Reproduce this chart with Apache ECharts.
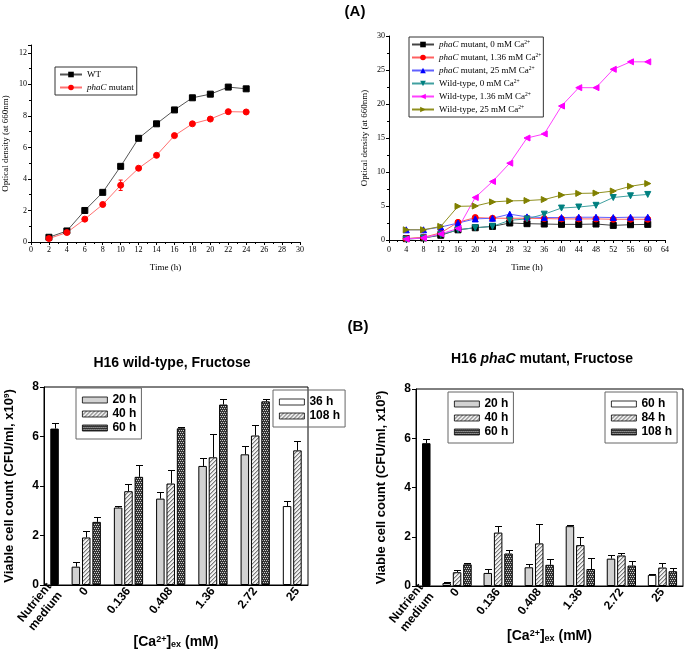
<!DOCTYPE html>
<html><head><meta charset="utf-8">
<script src="https://cdn.jsdelivr.net/npm/echarts@6/dist/echarts.min.js"></script>
<style>html,body{margin:0;padding:0;background:#fff}#c{width:685px;height:653px}</style>
</head><body><div id="c"></div>
<script>
// ---------- Panel A (left): growth curves ----------
const timeA = [2,4,6,8,10,12,14,16,18,20,22,24];
const wtOD = [0.3,0.7,2.0,3.15,4.8,6.58,7.5,8.38,9.15,9.38,9.83,9.72];
const phacOD = [0.22,0.6,1.45,2.38,3.6,4.68,5.5,6.75,7.5,7.8,8.27,8.25];
const phacODErr = [null,null,null,null,0.33,null,null,null,null,null,null,null];

// ---------- Panel A (right): growth with Ca2+ ----------
const timeB = [4,8,12,16,20,24,28,32,36,40,44,48,52,56,60];
const phac0 = [0.2,0.3,0.7,1.5,1.8,2.0,2.5,2.4,2.35,2.3,2.3,2.35,2.15,2.25,2.3];
const phac136 = [0.2,0.4,1.05,2.6,3.3,3.2,3.2,3.2,3.15,3.1,3.1,3.1,3.05,3.05,3.05];
const phac25 = [1.5,1.5,1.9,2.5,3.1,3.2,3.8,3.4,3.3,3.3,3.35,3.35,3.3,3.35,3.35];
const wt0 = [0.1,0.3,0.8,1.5,1.8,2.0,2.9,3.1,3.8,4.7,4.85,5.1,6.25,6.5,6.7];
const wt136 = [0.15,0.3,0.9,1.7,6.25,8.6,11.3,15.0,15.6,19.7,22.4,22.4,25.1,26.2,26.2];
const wt25 = [1.5,1.5,2.0,4.95,5.0,5.6,5.75,5.8,5.95,6.6,6.85,6.9,7.2,7.9,8.3];

// ---------- Panel B: viable cell counts ----------
const caCategories = ['Nutrient\nmedium','0','0.136','0.408','1.36','2.72','25'];
// wild-type
const wtNutrient = [6.32,null,null,null,null,null,null];
const wtNutrientErr = [0.22,null,null,null,null,null,null];
const wt20h = [null,0.74,3.13,3.49,4.81,5.28,null];
const wt20hErr = [null,0.17,0.06,0.25,0.32,0.32,null];
const wt40h = [null,1.92,3.79,4.1,5.16,6.04,null];
const wt40hErr = [null,0.25,0.28,0.56,0.96,0.41,null];
const wt60h = [null,2.55,4.37,6.33,7.29,7.42,null];
const wt60hErr = [null,0.18,0.46,0.06,0.24,0.11,null];
const wt36h = [null,null,null,null,null,null,3.19];
const wt36hErr = [null,null,null,null,null,null,0.2];
const wt108h = [null,null,null,null,null,null,5.44];
const wt108hErr = [null,null,null,null,null,null,0.39];
// phaC mutant
const muNutrient = [5.8,null,null,null,null,null,null];
const muNutrientErr = [0.18,null,null,null,null,null,null];
const mu20h = [null,0.12,0.53,0.76,2.43,1.11,null];
const mu20hErr = [null,0.03,0.15,0.12,0.05,0.13,null];
const mu40h = [null,0.56,2.17,1.73,1.66,1.24,null];
const mu40hErr = [null,0.11,0.26,0.77,0.35,0.08,null];
const mu60h = [null,0.88,1.32,0.86,0.69,0.83,null];
const mu60hErr = [null,0.06,0.13,0.22,0.44,0.19,null];
const mu60hLate = [null,null,null,null,null,null,0.45];
const mu60hLateErr = [null,null,null,null,null,null,0.02];
const mu84h = [null,null,null,null,null,null,0.75];
const mu84hErr = [null,null,null,null,null,null,0.2];
const mu108h = [null,null,null,null,null,null,0.6];
const mu108hErr = [null,null,null,null,null,null,0.15];

// ---------- layout constants ----------
const catPos = [0.25,1,2,3,4,5,6];
const BW = 8.5, GAP = 0.22, STEP = BW*(1+GAP);
const SERIF = 'Liberation Serif', SANS = 'Liberation Sans';

function pattern(w,h,bg,layers){
  const c=document.createElement('canvas'); c.width=w; c.height=h;
  const g=c.getContext('2d'); g.fillStyle=bg; g.fillRect(0,0,w,h);
  layers.forEach(([fg,pts])=>{ g.fillStyle=fg; pts.forEach(p=>g.fillRect(p[0],p[1],1,1)); });
  return {image:c, repeat:'repeat'};
}
const HATCH = pattern(4,4,'#f2f2f2',[['#7a7a7a',[[3,0],[2,1],[1,2],[0,3]]],['#c0c0c0',[[0,0],[3,1],[2,2],[1,3]]]]);
const CROSS = pattern(4,4,'#333333',[['#d0d0d0',[[0,0],[2,0],[1,2],[3,2]]]]);
const LIGHT = '#d2d2d2';

const strip = n => n.split('|')[0];

function bar(name, vals, stack, color, ax){
  return {type:'bar', name, stack, xAxisIndex:ax, yAxisIndex:ax, barWidth:BW, barGap:(GAP*100)+'%',
    data: vals.map((v,i)=>[catPos[i], v]),
    itemStyle:{color, borderColor:'#000', borderWidth:1}, emphasis:{disabled:true}, z:2};
}
function errSeries(list, ax){
  const data=[];
  list.forEach(([vals,errs,slot])=>vals.forEach((v,i)=>{ if(v!=null && errs[i]!=null) data.push([catPos[i],v,errs[i],slot]); }));
  return {type:'custom', xAxisIndex:ax, yAxisIndex:ax, z:5, silent:true,
    dimensions:['x','y','e','s'], encode:{x:'x',y:'y'}, data,
    renderItem(params, api){
      const x=api.value(0), v=api.value(1), e=api.value(2), s=api.value(3);
      const p0=api.coord([x,v]), p1=api.coord([x,v+e]);
      const cx=Math.round(p0[0]+s*STEP)+0.5, y1=Math.round(p1[1])+0.5;
      return {type:'group', children:[
        {type:'line', shape:{x1:cx,y1:p0[1],x2:cx,y2:y1}, style:{stroke:'#000',lineWidth:1}},
        {type:'line', shape:{x1:cx-3.5,y1:y1,x2:cx+3.5,y2:y1}, style:{stroke:'#000',lineWidth:1}}
      ]};
    }};
}

function lineSeries(name, xs, ys, color, symbol, rot, ax, lineColor){
  return {type:'line', name, xAxisIndex:ax, yAxisIndex:ax, data: xs.map((x,i)=>[x, ys[i]]),
    symbol, symbolSize:6, symbolRotate:rot, showAllSymbol:true,
    lineStyle:{color:lineColor||color, width:1}, itemStyle:{color, borderColor:color}, emphasis:{disabled:true}};
}

const topAxisLabel = {fontFamily:SERIF, fontSize:8, color:'#000', margin:4};
const topAxisCommon = {axisLine:{lineStyle:{color:'#000',width:1}}, axisTick:{inside:false,length:3,lineStyle:{color:'#000'}},
  minorTick:{show:true, splitNumber:2, length:2, lineStyle:{color:'#000'}}, splitLine:{show:false}, nameMoveOverlap:false};

const botYAxis = (ax) => ({type:'value', gridIndex:ax, min:0, max:8, interval:2,
  axisLine:{show:true, lineStyle:{color:'#000',width:1}}, axisTick:{show:true, length:4, lineStyle:{color:'#000'}},
  axisLabel:{fontFamily:SANS, fontWeight:'bold', fontSize:12, color:'#000', margin:5}, splitLine:{show:false},
  name:'Viable cell count (CFU/ml, x10{sup|9})', nameLocation:'middle', nameGap:28, nameMoveOverlap:false,
  nameTextStyle:{fontFamily:SANS, fontWeight:'bold', fontSize:13, color:'#000',
    rich:{sup:{fontFamily:SANS, fontWeight:'bold', fontSize:8, verticalAlign:'top', color:'#000'}}}});
const botXAxis = (ax, max, gap) => ({type:'value', gridIndex:ax, min:0, max,
  axisLine:{show:true, lineStyle:{color:'#000',width:1}}, axisTick:{show:false}, splitLine:{show:false},
  axisLabel:{customValues:catPos, formatter:v=>{const i=catPos.indexOf(v); return i<0?'':caCategories[i];},
    rotate:51, fontFamily:SANS, fontWeight:'bold', fontSize:12, color:'#000', margin:4, lineHeight:14},
  name:'[Ca{sup|2+}]{sub|ex} (mM)', nameLocation:'middle', nameGap:gap, nameMoveOverlap:false,
  nameTextStyle:{fontFamily:SANS, fontWeight:'bold', fontSize:14, color:'#000',
    rich:{sup:{fontFamily:SANS,fontWeight:'bold',fontSize:9,verticalAlign:'top',color:'#000'},
          sub:{fontFamily:SANS,fontWeight:'bold',fontSize:9,verticalAlign:'bottom',color:'#000'}}}});

const botLegend = (left, top, data) => ({orient:'vertical', left, top, padding:[6,5,5,6], itemWidth:25, itemHeight:6, itemGap:2,
  borderColor:'#666', borderWidth:1, icon:'rect', selectedMode:false, data, formatter:strip,
  itemStyle:{borderWidth:0.8},
  textStyle:{fontFamily:SANS, fontWeight:'bold', fontSize:12, color:'#000'}});

const supFmt = n => n.replace('phaC','{i|phaC}').replace('Ca2+','Ca{sup|2+}');

const option = {
  animation:false,
  backgroundColor:'#fff',
  title:[
    {text:'(A)', left:355, top:4, textAlign:'center', padding:0, textStyle:{fontFamily:SANS, fontWeight:'bold', fontSize:15, color:'#000'}},
    {text:'(B)', left:358, top:319, textAlign:'center', padding:0, textStyle:{fontFamily:SANS, fontWeight:'bold', fontSize:15, color:'#000'}},
    {text:'H16 wild-type, Fructose', left:172, top:356, textAlign:'center', padding:0, textStyle:{fontFamily:SANS, fontWeight:'bold', fontSize:14, color:'#000'}},
    {text:'H16 {i|phaC} mutant, Fructose', left:542, top:352, textAlign:'center', padding:0,
      textStyle:{fontFamily:SANS, fontWeight:'bold', fontSize:14, color:'#000',
        rich:{i:{fontFamily:SANS, fontWeight:'bold', fontStyle:'italic', fontSize:14, color:'#000'}}}}
  ],
  legend:[
    {orient:'vertical', left:55, top:67, padding:[3,3,3,4], itemWidth:22, itemHeight:7, itemGap:4,
      borderColor:'#333', borderWidth:1, selectedMode:false, data:['WT','phaC mutant'], formatter:supFmt,
      textStyle:{fontFamily:SERIF, fontSize:9, color:'#000', rich:{i:{fontFamily:SERIF,fontSize:9,fontStyle:'italic',color:'#000'}}}},
    {orient:'vertical', left:409, top:37, padding:[3,2,3,2], itemWidth:22, itemHeight:7, itemGap:4,
      borderColor:'#333', borderWidth:1, selectedMode:false,
      data:['phaC mutant, 0 mM Ca2+','phaC mutant, 1.36 mM Ca2+','phaC mutant, 25 mM Ca2+','Wild-type, 0 mM Ca2+','Wild-type, 1.36 mM Ca2+','Wild-type, 25 mM Ca2+'],
      formatter:supFmt,
      textStyle:{fontFamily:SERIF, fontSize:9, color:'#000', rich:{i:{fontFamily:SERIF,fontSize:9,fontStyle:'italic',color:'#000'}, sup:{fontFamily:SERIF,fontSize:5.5,verticalAlign:'top',color:'#000'}}}},
    botLegend(76, 388, ['20 h','40 h','60 h']),
    botLegend(273, 390, ['36 h','108 h']),
    botLegend(448, 392, ['20 h','40 h','60 h']),
    botLegend(605, 392, ['60 h|w','84 h','108 h|x'])
  ],
  grid:[
    {left:31, top:45, width:269, height:197, show:false},
    {left:389, top:36, width:276, height:204, show:false},
    {left:44, top:387, width:264, height:198, show:true, borderColor:'#000', borderWidth:1},
    {left:416, top:389, width:267, height:197, show:true, borderColor:'#000', borderWidth:1}
  ],
  xAxis:[
    Object.assign({type:'value', gridIndex:0, min:0, max:30, interval:2, axisLabel:topAxisLabel,
      name:'Time (h)', nameLocation:'middle', nameGap:21, nameTextStyle:{fontFamily:SERIF, fontSize:9, color:'#000'}}, topAxisCommon),
    Object.assign({type:'value', gridIndex:1, min:0, max:64, interval:4, axisLabel:Object.assign({}, topAxisLabel, {margin:6}),
      name:'Time (h)', nameLocation:'middle', nameGap:23, nameTextStyle:{fontFamily:SERIF, fontSize:9, color:'#000'}}, topAxisCommon),
    botXAxis(2, 6.25, 50),
    botXAxis(3, 6.5, 43)
  ],
  yAxis:[
    Object.assign({type:'value', gridIndex:0, min:0, max:12.5, interval:2, axisLabel:Object.assign({}, topAxisLabel, {showMaxLabel:false, formatter:v=>v%2===0?String(v):''}),
      name:'Optical density (at 660nm)', nameLocation:'middle', nameGap:21, nameTextStyle:{fontFamily:SERIF, fontSize:9, color:'#000'}}, topAxisCommon),
    Object.assign({type:'value', gridIndex:1, min:0, max:30, interval:5, axisLabel:topAxisLabel,
      name:'Optical density (at 660nm)', nameLocation:'middle', nameGap:20, nameTextStyle:{fontFamily:SERIF, fontSize:9, color:'#000'}}, topAxisCommon),
    botYAxis(2),
    botYAxis(3)
  ],
  series:[
    lineSeries('WT', timeA, wtOD, '#000', 'rect', 0, 0, '#555'),
    lineSeries('phaC mutant', timeA, phacOD, '#ff0000', 'circle', 0, 0, '#ff7070'),
    {type:'custom', xAxisIndex:0, yAxisIndex:0, z:5, silent:true, dimensions:['x','y','e'], encode:{x:'x',y:'y'},
      data: timeA.map((t,i)=>[t, phacOD[i], phacODErr[i]]).filter(d=>d[2]!=null),
      renderItem(params, api){
        const x=api.value(0), v=api.value(1), e=api.value(2);
        const a=api.coord([x,v+e]), b=api.coord([x,v-e]);
        return {type:'group', children:[
          {type:'line', shape:{x1:a[0],y1:a[1],x2:b[0],y2:b[1]}, style:{stroke:'#ff0000',lineWidth:1}},
          {type:'line', shape:{x1:a[0]-2,y1:a[1],x2:a[0]+2,y2:a[1]}, style:{stroke:'#ff0000',lineWidth:1}},
          {type:'line', shape:{x1:b[0]-2,y1:b[1],x2:b[0]+2,y2:b[1]}, style:{stroke:'#ff0000',lineWidth:1}}]};
      }},

    lineSeries('phaC mutant, 0 mM Ca2+', timeB, phac0, '#000000', 'rect', 0, 1, '#444'),
    lineSeries('phaC mutant, 1.36 mM Ca2+', timeB, phac136, '#ff0000', 'circle', 0, 1, '#ff6060'),
    lineSeries('phaC mutant, 25 mM Ca2+', timeB, phac25, '#0000ff', 'triangle', 0, 1, '#6060ff'),
    lineSeries('Wild-type, 0 mM Ca2+', timeB, wt0, '#008080', 'triangle', 180, 1, '#40a0a0'),
    lineSeries('Wild-type, 1.36 mM Ca2+', timeB, wt136, '#ff00ff', 'triangle', 90, 1, '#ff40ff'),
    lineSeries('Wild-type, 25 mM Ca2+', timeB, wt25, '#808000', 'triangle', -90, 1, '#909020'),

    bar('20 h', wt20h, 'a', LIGHT, 2),
    bar('40 h', wt40h, 'b', HATCH, 2),
    bar('60 h', wt60h, 'c', CROSS, 2),
    bar('Nutrient', wtNutrient, 'b', '#000', 2),
    bar('36 h', wt36h, 'a', '#fff', 2),
    bar('108 h', wt108h, 'b', HATCH, 2),
    errSeries([[wtNutrient,wtNutrientErr,0],[wt20h,wt20hErr,-1],[wt40h,wt40hErr,0],[wt60h,wt60hErr,1],[wt36h,wt36hErr,-1],[wt108h,wt108hErr,0]], 2),

    bar('20 h', mu20h, 'a', LIGHT, 3),
    bar('40 h', mu40h, 'b', HATCH, 3),
    bar('60 h', mu60h, 'c', CROSS, 3),
    bar('Nutrient', muNutrient, 'b', '#000', 3),
    bar('60 h|w', mu60hLate, 'a', '#fff', 3),
    bar('84 h', mu84h, 'b', HATCH, 3),
    bar('108 h|x', mu108h, 'c', CROSS, 3),
    errSeries([[muNutrient,muNutrientErr,0],[mu20h,mu20hErr,-1],[mu40h,mu40hErr,0],[mu60h,mu60hErr,1],[mu60hLate,mu60hLateErr,-1],[mu84h,mu84hErr,0],[mu108h,mu108hErr,1]], 3)
  ]
};
echarts.init(document.getElementById('c'), null, {renderer:'canvas'}).setOption(option);
</script></body></html>
